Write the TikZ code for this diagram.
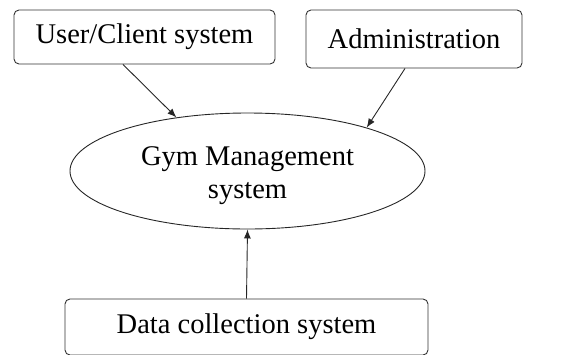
\documentclass[tikz,border=0pt]{standalone}
\usepackage{fontspec}
\setmainfont{Liberation Serif}
\usetikzlibrary{shapes.geometric,arrows.meta}
\begin{document}
\begin{tikzpicture}[x=1pt,y=-1pt,
  every node/.style={font=\fontsize{28.5}{33}\selectfont},
  box/.style={draw=black!80,line width=0.9pt,rounded corners=5pt,inner sep=0pt},
  conn/.style={draw=black!85,line width=0.9pt,-{Latex[length=9pt,width=7pt]}}]
\useasboundingbox (0,0) rectangle (561,354);
\node[box,minimum width=261,minimum height=54] (user) at (144.5,37) {User/Client system};
\node[box,minimum width=216,minimum height=58] (admin) at (414,39) {Administration};
\node[draw=black!85,line width=0.9pt,ellipse,minimum width=355,minimum height=116,inner sep=0pt,align=center] (gym) at (247.5,171) {\rule{0pt}{28pt}Gym Management\\system};
\node[box,minimum width=363,minimum height=56] (data) at (246.5,327) {Data collection system};
\draw[conn] ([xshift=-21.5pt]user.south) -- (gym.143.8);
\draw[conn] ([xshift=-9pt]admin.south) -- (gym.20.9);
\draw[conn] (data.north) -- (gym.south);
\end{tikzpicture}
\end{document}
